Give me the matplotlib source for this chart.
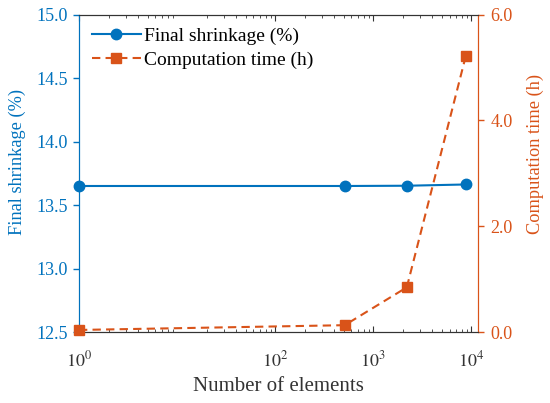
import matplotlib
matplotlib.use("Agg")
import matplotlib.pyplot as plt
from matplotlib.ticker import LogLocator, FixedLocator, FixedFormatter, FormatStrFormatter, NullFormatter

plt.rcParams['font.family'] = ['Liberation Serif', 'DejaVu Serif']
plt.rcParams['mathtext.fontset'] = 'stix'

elements = [1, 512, 2200, 8800]
shrinkage = [13.65, 13.65, 13.652, 13.662]
comp_time = [0.04, 0.13, 0.845, 5.22]
x_ticks = [1, 100, 1000, 10000]
x_tick_labels = [r'$10^0$', r'$10^2$', r'$10^3$', r'$10^4$']
left_ticks = [12.5, 13.0, 13.5, 14.0, 14.5, 15.0]
right_ticks = [0, 2, 4, 6]

blue = '#0072BD'
orange = '#D95319'
dark = '#333333'

fig = plt.figure(figsize=(5.5, 4.03), dpi=100)
ax = fig.add_axes([0.1436, 0.176, 0.8697 - 0.1436, 0.964 - 0.176])
ax2 = ax.twinx()

l1, = ax.plot(elements, shrinkage, '-o', color=blue, lw=1.5, markersize=7.5,
              label='Final shrinkage (%)', clip_on=False, zorder=5)
l2, = ax2.plot(elements, comp_time, '--s', color=orange, lw=1.5, markersize=7,
               dashes=(4, 2.5), label='Computation time (h)', clip_on=False, zorder=5)

ax.set_xscale('log')
ax.set_xlim(1, 11800)
ax.set_ylim(12.5, 15.0)
ax2.set_ylim(0, 6.0)

ax.set_yticks(left_ticks)
ax.yaxis.set_major_formatter(FormatStrFormatter('%.1f'))
ax2.set_yticks(right_ticks)
ax2.yaxis.set_major_formatter(FormatStrFormatter('%.1f'))

ax.xaxis.set_major_locator(FixedLocator(x_ticks))
ax.xaxis.set_major_formatter(FixedFormatter(x_tick_labels))
ax.xaxis.set_minor_locator(LogLocator(base=10, subs=range(2, 10), numticks=20))
ax.xaxis.set_minor_formatter(NullFormatter())
ax.tick_params(axis='x', which='major', direction='in', length=4.5, top=True,
               labelsize=13, color=dark, labelcolor=dark, pad=13)
ax.tick_params(axis='x', which='minor', direction='in', length=2.5, top=True, color=dark)

ax.tick_params(axis='y', which='both', direction='out', length=4.5, colors=blue,
               labelsize=13, width=1, pad=3.5)
ax2.tick_params(axis='y', which='both', direction='out', length=4.5, colors=orange,
                labelsize=13, width=1, pad=4)

for a in (ax, ax2):
    a.spines['top'].set_color(dark)
    a.spines['bottom'].set_color(dark)
ax.spines['left'].set_color(blue)
ax2.spines['left'].set_color(blue)
ax.spines['right'].set_color(orange)
ax2.spines['right'].set_color(orange)

ax.set_xlabel('Number of elements', fontsize=15, color=dark, labelpad=5)
ax.set_ylabel('Final shrinkage (%)', fontsize=13.2, color=blue)
ax2.set_ylabel('Computation time (h)', fontsize=13.2, color=orange)
ax.yaxis.set_label_coords(-0.133, 0.535)
ax2.yaxis.set_label_coords(1.122, 0.56)

leg = ax.legend(handles=[l1, l2], loc='upper left', frameon=False, fontsize=14,
                handlelength=2.5, borderaxespad=0.37, labelspacing=0.32,
                handletextpad=0.18, borderpad=0.3)
leg.set_zorder(10)

fig.savefig('out.png', dpi=100)
